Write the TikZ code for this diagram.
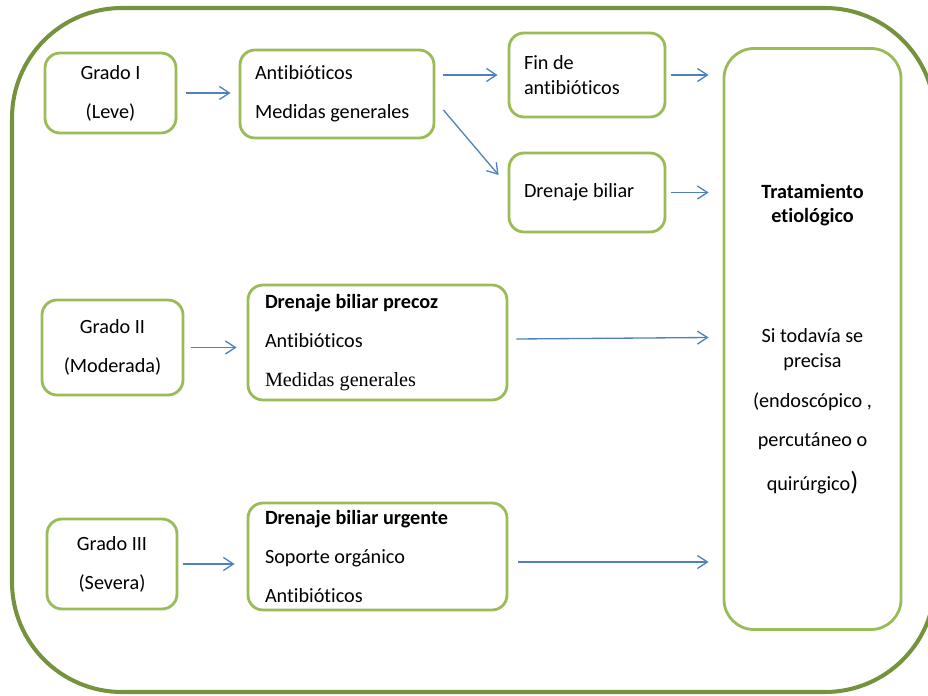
\documentclass[tikz,border=0pt]{standalone}
\usepackage{fontspec}
\setmainfont{Carlito}[Ligatures=NoCommon]
\newfontfamily\timesfont{Liberation Serif}
\usetikzlibrary{arrows.meta}
\definecolor{verdeoscuro}{HTML}{76923C}
\definecolor{verdecaja}{HTML}{9BBB59}
\definecolor{azulflecha}{HTML}{4F81BD}

\begin{document}
\begin{tikzpicture}[
    grado/.style={draw=verdecaja, line width=1.6pt, rounded corners=0.3cm, align=center,
        font=\fontsize{11.5}{14}\selectfont},
    lista/.style={grado, align=left, inner xsep=0.3cm,
        execute at begin node={\spaceskip=0pt\xspaceskip=0pt}},
    flecha/.style={draw=azulflecha, line width=0.75pt, -{Straight Barb[length=2mm,width=2.6mm]}}
]
    \useasboundingbox (0,0) rectangle (18.56,-13.92);
    % marco exterior
    \draw[line width=2.3pt, draw=verdeoscuro, rounded corners=2.2cm] (0.24,-0.16) rectangle (18.7,-13.84);

    % grados
    \node[grado, minimum width=2.62cm, minimum height=1.6cm] (g1) at (2.21,-1.86) {Grado I\\[8.3pt](Leve)};
    \node[grado, minimum width=2.82cm, minimum height=1.9cm] (g2) at (2.25,-6.95) {Grado II\\[8.3pt](Moderada)};
    \node[grado, minimum width=2.6cm, minimum height=1.8cm] (g3) at (2.24,-11.28) {Grado III\\[8.3pt](Severa)};

    % medidas
    \node[lista, text width=3.28cm, minimum height=1.76cm] (ab1) at (6.74,-1.88) {Antibióticos\\[8.3pt]Medidas generales};
    \node[lista, text width=2.52cm, minimum height=1.68cm] (fin) at (11.74,-1.5) {Fin de\\antibióticos};
    \node[lista, text width=2.52cm, minimum height=1.58cm] (dre) at (11.74,-3.85) {Drenaje biliar};
    \node[lista, inner xsep=0.34cm, text width=4.5cm, minimum height=2.3cm] (pre) at (7.55,-6.85)
        {\textbf{Drenaje biliar precoz}\\[8.3pt]Antibióticos\\[8.3pt]{\timesfont Medidas generales}};
    \node[lista, inner xsep=0.34cm, text width=4.5cm, minimum height=2.14cm] (urg) at (7.55,-11.13)
        {\textbf{Drenaje biliar urgente}\\[8.3pt]Soporte orgánico\\[8.3pt]Antibióticos};

    % tratamiento
    \node[grado, rounded corners=0.6cm, minimum width=3.54cm, minimum height=11.62cm] (tra) at (16.25,-6.78)
        {\textbf{Tratamiento}\\\textbf{etiológico}\\[54pt]Si todavía se\\precisa\\[8.8pt](endoscópico ,\\[8.3pt]percutáneo o\\[11pt]quirúrgico{\fontsize{15}{14}\selectfont)}};

    % flechas
    \draw[flecha, shorten <=0.18cm, shorten >=0.16cm] (g1.east) -- (g1.east -| ab1.west);
    \draw[flecha, shorten <=0.16cm, shorten >=0.2cm] (ab1.east |- fin.west) -- (fin.west);
    \draw[flecha] ([xshift=0.16cm,yshift=-0.32cm]ab1.east) -- ([xshift=-0.18cm,yshift=0.35cm]dre.west);
    \draw[flecha, shorten <=0.1cm, shorten >=0.28cm] (fin.east) -- (fin.east -| tra.west);
    \draw[flecha, shorten <=0.1cm, shorten >=0.28cm] (dre.east) -- (dre.east -| tra.west);
    \draw[flecha, shorten <=0.14cm, shorten >=0.2cm] (g2.east) -- (g2.east -| pre.west);
    \draw[flecha] ([xshift=0.16cm,yshift=0.07cm]pre.east) -- ([xshift=-0.28cm,yshift=0.03cm]tra.west);
    \draw[flecha, shorten <=0.1cm, shorten >=0.24cm] (g3.east) -- (g3.east -| urg.west);
    \coordinate (u) at ([yshift=-0.11cm]urg.east);
    \draw[flecha, shorten <=0.2cm, shorten >=0.28cm] (u) -- (u -| tra.west);
\end{tikzpicture}
\end{document}
